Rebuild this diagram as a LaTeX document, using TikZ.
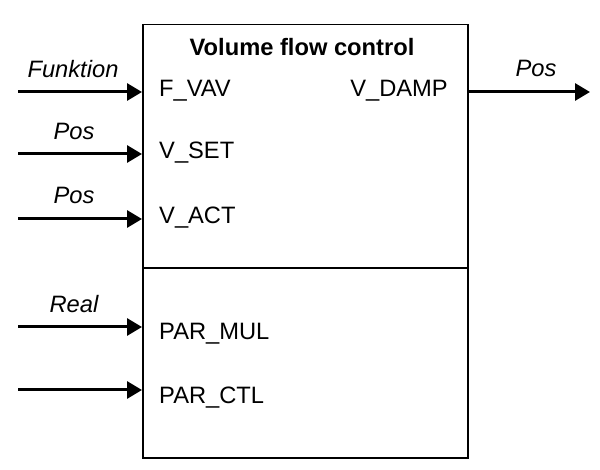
\documentclass[tikz,border=0pt]{standalone}
\usepackage{fontspec}
\setmainfont{Liberation Sans}
\usetikzlibrary{arrows.meta}
\begin{document}
\begin{tikzpicture}[x=1pt,y=-1pt,
  txt/.style={inner sep=0pt,font=\fontsize{23.7}{27}\selectfont},
  lbl/.style={txt,font=\fontsize{23.7}{27}\selectfont\itshape,anchor=base},
  port/.style={txt,anchor=base west},
  sig/.style={line width=3pt,-{Triangle[length=15pt,width=17pt]}},
  boxline/.style={line width=1.5pt}]
\useasboundingbox (0,0) rectangle (600,470);
\node[boxline,draw,minimum width=325pt,minimum height=433pt,inner sep=0pt,anchor=north west] (blk) at (142,24) {};
\coordinate (dl) at (142,268);
\coordinate (dr) at (467,268);
\draw[boxline] (dl) -- (dr);
\node[txt,anchor=base,font=\fontsize{23.7}{27}\selectfont\bfseries] (title) at (302,56) {Volume flow control};
% ports
\node[port] (fvav) at (159,97) {F\_VAV};
\node[port] (vset) at (159,159) {V\_SET};
\node[port] (vact) at (159,224) {V\_ACT};
\node[port] (pmul) at (159,340) {PAR\_MUL};
\node[port] (pctl) at (159,403) {PAR\_CTL};
\node[txt,anchor=base east] (vdamp) at (448,97) {V\_DAMP};
% input coordinates
\coordinate (i1s) at (18,92);  \coordinate (i1e) at (142,92);
\coordinate (i2s) at (18,154); \coordinate (i2e) at (142,154);
\coordinate (i3s) at (18,219); \coordinate (i3e) at (142,219);
\coordinate (i4s) at (18,327); \coordinate (i4e) at (142,327);
\coordinate (i5s) at (18,390); \coordinate (i5e) at (142,390);
\coordinate (o1s) at (467,92); \coordinate (o1e) at (590,92);
\draw[sig] (i1s) -- (i1e);
\draw[sig] (i2s) -- (i2e);
\draw[sig] (i3s) -- (i3e);
\draw[sig] (i4s) -- (i4e);
\draw[sig] (i5s) -- (i5e);
\draw[sig] (o1s) -- (o1e);
% labels
\node[lbl] (l1) at (73,78) {Funktion};
\node[lbl] (l2) at (74,140) {Pos};
\node[lbl] (l3) at (74,204) {Pos};
\node[lbl] (l4) at (74,313) {Real};
\node[lbl] (l5) at (536,77) {Pos};
\end{tikzpicture}
\end{document}
